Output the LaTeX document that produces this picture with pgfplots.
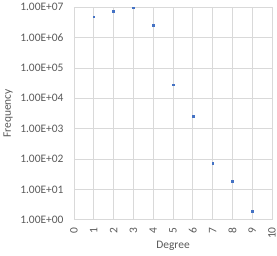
\documentclass[border=0pt]{standalone}
\usepackage{pgfplots}
\pgfplotsset{compat=1.18}
\usepackage{fontspec}
\setmainfont{Carlito}
\definecolor{ptblue}{HTML}{4472C4}
\definecolor{gridgray}{HTML}{D9D9D9}
\definecolor{txtgray}{HTML}{595959}
\begin{document}
\begin{tikzpicture}
\begin{axis}[
  at={(0,0)}, anchor=south west,
  scale only axis, width=198bp, height=212.4bp,
  ymode=log, log basis y=10,
  xmin=0, xmax=10, ymin=1, ymax=1e7,
  xtick={0,1,2,3,4,5,6,7,8,9,10},
  xticklabels={0,1,2,3,4,5,6,7,8,9,10},
  ytick={1,10,100,1000,10000,100000,1000000,10000000},
  yticklabels={1.00E+00,1.00E+01,1.00E+02,1.00E+03,1.00E+04,1.00E+05,1.00E+06,1.00E+07},
  x tick label style={rotate=90, anchor=east, font=\fontsize{11.5}{13}\selectfont, text=txtgray},
  y tick label style={font=\fontsize{11.5}{13}\selectfont, text=txtgray},
  xticklabel shift=4bp,
  yticklabel shift=7bp,
  major tick length=0pt,
  grid=major,
  major grid style={draw=gridgray, line width=0.75bp},
  axis line style={draw=none},
  xlabel={Degree}, ylabel={Frequency},
  xlabel style={font=\fontsize{11.5}{13}\selectfont, text=txtgray, at={(axis description cs:0.5,0)}, anchor=center, yshift=-26.5bp},
  ylabel style={font=\fontsize{11.5}{13}\selectfont, text=txtgray, at={(axis description cs:-0.333,0.5)}, anchor=center, rotate=0},
  clip=false,
]
\addplot[only marks, mark=square*, mark size=0.9bp, color=ptblue] coordinates {
  (1,4.9e6) (2,7.6e6) (3,9.7e6) (4,2.6e6) (5,2.8e4) (6,2.5e3) (7,71) (8,19) (9,1.9)
};
\end{axis}
\pgfresetboundingbox
\path (-74bp,-36.3bp) rectangle (203bp,219.7bp);
\end{tikzpicture}
\end{document}
